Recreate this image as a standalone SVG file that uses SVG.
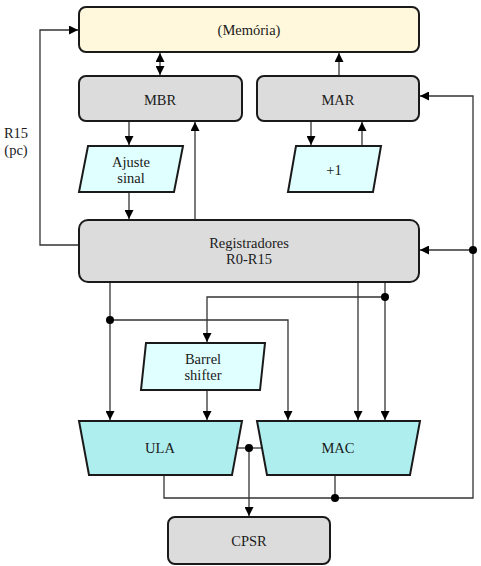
<svg xmlns="http://www.w3.org/2000/svg" width="481" height="566" viewBox="0 0 481 566">
<style>
.box{stroke:#1a1a1a;stroke-width:2}
.mem{fill:#fff8dc}
.reg{fill:#dcdcdc}
.par{fill:#e0ffff}
.alu{fill:#afeeee}
.t{font-family:"Liberation Serif",serif;font-size:14.5px;fill:#1a1a1a;text-anchor:middle;dominant-baseline:central}
.w{fill:none;stroke:#333;stroke-width:1.3}
.dot{fill:#000}
</style>
<defs>
<marker id="ah" viewBox="0 0 10 10" refX="10" refY="5" markerWidth="9" markerHeight="9" markerUnits="userSpaceOnUse" orient="auto-start-reverse">
<path d="M0,0 L10,5 L0,10 z" fill="#000"/>
</marker>
</defs>
<g id="connectors">
<path class="w" d="M160,53 V75" marker-start="url(#ah)" marker-end="url(#ah)"/>
<path class="w" d="M339,76 V53" marker-end="url(#ah)"/>
<path class="w" d="M79,245 H40 V30 H78" marker-end="url(#ah)"/>
<path class="w" d="M129,121 V145" marker-end="url(#ah)"/>
<path class="w" d="M129,192 V219" marker-end="url(#ah)"/>
<path class="w" d="M195,220 V122" marker-end="url(#ah)"/>
<path class="w" d="M311,121 V145" marker-end="url(#ah)"/>
<path class="w" d="M362,146 V122" marker-end="url(#ah)"/>
<path class="w" d="M164,475 V498 H473 V96 H420" marker-end="url(#ah)"/>
<path class="w" d="M473,250 H420" marker-end="url(#ah)"/>
<path class="w" d="M335,475 V498"/>
<path class="w" d="M110,282 V420" marker-end="url(#ah)"/>
<path class="w" d="M110,320 H288 V420" marker-end="url(#ah)"/>
<path class="w" d="M385,282 V420" marker-end="url(#ah)"/>
<path class="w" d="M358,282 V420" marker-end="url(#ah)"/>
<path class="w" d="M385,297 H207 V342" marker-end="url(#ah)"/>
<path class="w" d="M207,390 V420" marker-end="url(#ah)"/>
<path class="w" d="M237,448 H262"/>
<path class="w" d="M249,448 V516" marker-end="url(#ah)"/>
<circle class="dot" cx="473" cy="250" r="4"/>
<circle class="dot" cx="110" cy="320" r="4"/>
<circle class="dot" cx="385" cy="297" r="4"/>
<circle class="dot" cx="249" cy="448" r="4"/>
<circle class="dot" cx="335" cy="498" r="4"/>
</g>
<g id="memoria"><rect class="box mem" x="79" y="7" width="340" height="45" rx="7"/><text class="t" x="249" y="30">(Memória)</text></g>
<g id="mbr"><rect class="box reg" x="79" y="76" width="163" height="45" rx="7"/><text class="t" x="160" y="100">MBR</text></g>
<g id="mar"><rect class="box reg" x="257" y="76" width="162" height="45" rx="7"/><text class="t" x="338" y="100">MAR</text></g>
<g id="ajuste"><polygon class="box par" points="88,146 183,146 174,192 79,192"/><text class="t" x="131" y="162">Ajuste</text><text class="t" x="131" y="178">sinal</text></g>
<g id="inc"><polygon class="box par" points="296,146 381,146 373,192 288,192"/><text class="t" x="334" y="170">+1</text></g>
<g id="registradores"><rect class="box reg" x="79" y="220" width="340" height="62" rx="9"/><text class="t" x="249" y="243">Registradores</text><text class="t" x="249" y="259">R0-R15</text></g>
<g id="barrel"><polygon class="box par" points="146,343 265,343 260,390 141,390"/><text class="t" x="203" y="359">Barrel</text><text class="t" x="203" y="375">shifter</text></g>
<g id="ula"><polygon class="box alu" points="79,421 242,421 232,475 89,475"/><text class="t" x="160" y="448">ULA</text></g>
<g id="mac"><polygon class="box alu" points="257,421 420,421 410,475 267,475"/><text class="t" x="338" y="448">MAC</text></g>
<g id="cpsr"><rect class="box reg" x="168" y="517" width="162" height="47" rx="7"/><text class="t" x="249" y="541">CPSR</text></g>
<g id="label"><text class="t" x="16" y="133">R15</text><text class="t" x="16" y="150">(pc)</text></g>
</svg>
